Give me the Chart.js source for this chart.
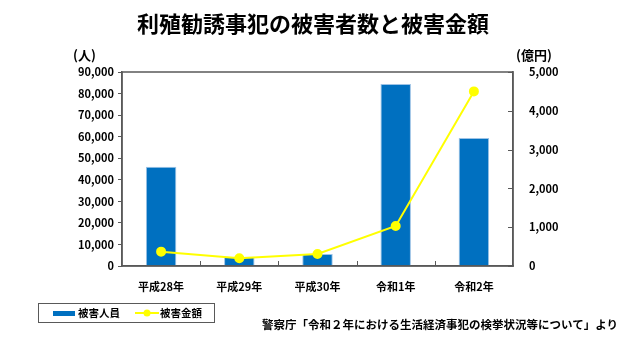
<!DOCTYPE html>
<html lang="ja">
<head>
<meta charset="utf-8">
<script src="https://cdn.jsdelivr.net/npm/chart.js@4"></script>
<style>
  html, body { margin: 0; padding: 0; background: #fff; }
  body { width: 626px; height: 352px; position: relative; overflow: hidden;
         font-family: "Noto Sans CJK JP", "Noto Sans", sans-serif; color: #000; }
  #wrap { position: absolute; left: 0; top: 0; width: 626px; height: 352px; }
  .abs { position: absolute; white-space: nowrap; line-height: 1; }
  #title { left: 0; width: 626px; top: 11px; text-align: center; font-size: 22px; font-weight: bold; }
  #unitL { left: 73px; top: 48px; font-size: 13px; font-weight: bold; }
  #unitR { left: 516px; top: 48px; font-size: 13px; font-weight: bold; }
  #legend { left: 38px; top: 303px; width: 175px; height: 18px; border: 1px solid #595959;
            font-size: 10.5px; font-weight: bold; display: flex; align-items: center; }
  #legend span.item { display: inline-flex; align-items: center; }
  #source { left: 262px; top: 319px; font-size: 11.5px; font-weight: bold; }
</style>
</head>
<body>
<div id="wrap"><canvas id="chart" width="626" height="352"></canvas></div>
<div class="abs" id="title">利殖勧誘事犯の被害者数と被害金額</div>
<div class="abs" id="unitL">(人)</div>
<div class="abs" id="unitR">(億円)</div>
<div class="abs" id="legend"></div>
<div class="abs" id="source">警察庁「令和２年における生活経済事犯の検挙状況等について」より</div>
<script>
/* data */
const years   = ['平成28年', '平成29年', '平成30年', '令和1年', '令和2年'];
const victims = [46000, 4300, 5600, 84400, 59400];   // 被害人員（人）
const damage  = [370, 200, 310, 1030, 4500];          // 被害金額（億円）

const BLUE = '#0070C0', YELLOW = '#FFFF00', FRAME = '#595959';
const FONT = { family: '"Noto Sans CJK JP", "Noto Sans", sans-serif', size: 11, weight: 'bold' };

/* frame round the plot area, inward ticks on x and right axes */
const frame = {
  id: 'frame',
  afterDatasetsDraw(chart) {
    const { left, right, top, bottom } = chart.chartArea;
    const c = chart.ctx;
    c.save();
    c.strokeStyle = FRAME;
    c.lineWidth = 1.5;
    c.strokeRect(left, top, right - left, bottom - top);
    c.lineWidth = 1;
    c.beginPath();
    const n = years.length, w = (right - left) / n;
    for (let i = 1; i < n; i++) {
      const x = Math.round(left + w * i) + 0.5;
      c.moveTo(x, bottom); c.lineTo(x, bottom - 5);
    }
    const yR = chart.scales.yR;
    yR.ticks.forEach(t => {
      const y = Math.round(yR.getPixelForValue(t.value)) + 0.5;
      c.moveTo(right, y); c.lineTo(right - 5, y);
    });
    c.stroke();
    c.restore();
  }
};

new Chart(document.getElementById('chart'), {
  data: {
    labels: years,
    datasets: [
      {
        type: 'line', label: '被害金額', data: damage, yAxisID: 'yR',
        borderColor: YELLOW, backgroundColor: YELLOW, borderWidth: 2,
        pointRadius: 4, pointBackgroundColor: YELLOW, pointBorderColor: YELLOW,
        tension: 0, order: 0
      },
      {
        type: 'bar', label: '被害人員', data: victims, yAxisID: 'yL',
        backgroundColor: BLUE, borderColor: '#9DC3E6', borderWidth: 1,
        barPercentage: 0.39, categoryPercentage: 1, order: 1
      }
    ]
  },
  options: {
    responsive: false,
    animation: false,
    layout: { padding: { top: 72, left: 0, right: 0, bottom: 0 } },
    plugins: { legend: { display: false }, tooltip: { enabled: false } },
    scales: {
      x: {
        offset: true,
        grid: { display: false },
        border: { color: FRAME, width: 1.5 },
        ticks: { color: '#000', font: FONT, padding: 6 },
        afterFit(s) { s.height = 86; }
      },
      yL: {
        position: 'left', min: 0, max: 90000,
        grid: { drawOnChartArea: false, color: FRAME, tickLength: 4 },
        border: { color: FRAME, width: 1.5 },
        ticks: { stepSize: 10000, color: '#000', font: FONT, padding: 4,
                 callback: v => v.toLocaleString('en-US') },
        afterFit(s) { s.width = 122; }
      },
      yR: {
        position: 'right', min: 0, max: 5000,
        grid: { display: false },
        border: { color: FRAME, width: 1.5 },
        ticks: { stepSize: 1000, color: '#000', font: FONT, padding: 8,
                 callback: v => v.toLocaleString('en-US') },
        afterFit(s) { s.width = 113; }
      }
    }
  },
  plugins: [frame]
});

/* legend box: built from the dataset labels */
document.getElementById('legend').innerHTML =
  `<span class="item" style="margin-left:14px"><span style="display:inline-block;width:22px;height:5px;background:${BLUE};margin-right:3px"></span>被害人員</span>` +
  `<span class="item" style="margin-left:15px"><svg width="24" height="10" style="margin-right:1px"><line x1="0" y1="5" x2="24" y2="5" stroke="${YELLOW}" stroke-width="2"/><circle cx="12" cy="5" r="3.5" fill="${YELLOW}"/></svg>被害金額</span>`;
</script>
</body>
</html>
